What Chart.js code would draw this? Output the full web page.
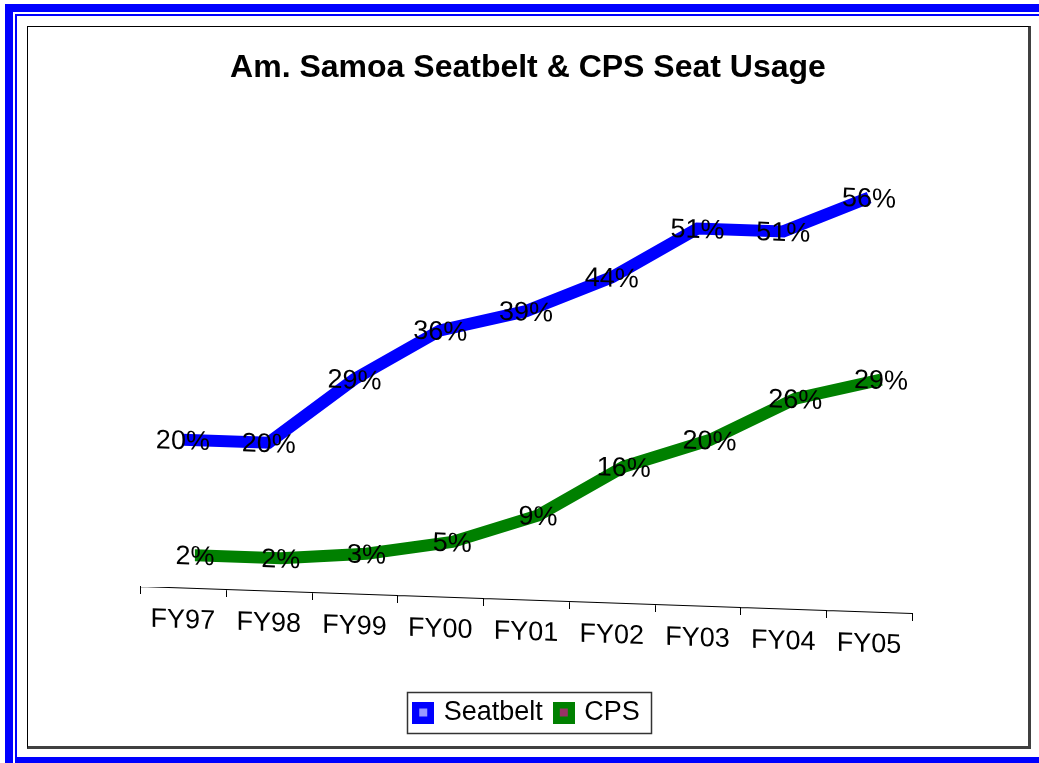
<!DOCTYPE html>
<html>
<head>
<meta charset="utf-8">
<title>Am. Samoa Seatbelt &amp; CPS Seat Usage</title>
<script src="https://cdn.jsdelivr.net/npm/chart.js@4.4.0/dist/chart.umd.min.js"></script>
<style>
  html, body { margin: 0; padding: 0; background: #fff; overflow: hidden; }
  .page { position: relative; width: 1039px; height: 763px; overflow: hidden; }
  /* double blue page border, cut off on the right */
  .outerBlue { position: absolute; left: 5px; top: 4px; width: 1100px; height: 800px;
    border-left: 8px solid #0000ff; border-top: 8px solid #0000ff; }
  .innerBlue { position: absolute; left: 15px; top: 14px; width: 1100px; height: 741px;
    border-left: 2px solid #0000ff; border-top: 2px solid #0000ff; border-bottom: 8px solid #0000ff; }
  .frame { position: absolute; left: 27px; top: 26px; width: 1000px; height: 719px;
    border-left: 1px solid #000; border-top: 1px solid #000;
    border-right: 3px solid #404040; border-bottom: 3px solid #404040; background: #fff; }
  canvas { display: block; }
</style>
</head>
<body>
<div class="page">
  <div class="outerBlue"></div>
  <div class="innerBlue"></div>
  <div class="frame"><canvas id="usageChart" width="1000" height="719"></canvas></div>
</div>
<script>
// data
const categories = ['FY97', 'FY98', 'FY99', 'FY00', 'FY01', 'FY02', 'FY03', 'FY04', 'FY05'];
const seatbelt = [20, 20, 29, 36, 39, 44, 51, 51, 56];
const cps = [2, 2, 3, 5, 9, 16, 20, 26, 29];
const seriesNames = ['Seatbelt', 'CPS'];

const FONT = "'Liberation Sans', Arial, Helvetica, sans-serif";
const SLANT = 0.035;            // floor of the old 3D chart leans down to the right
const DEPTH = { x: 12, y: -18 }; // each series further back sits up and right

// legend swatch like the Excel one: coloured square with a small inner square
function swatch(outer, inner) {
    const c = document.createElement('canvas');
    c.width = 22;
    c.height = 22;
    const g = c.getContext('2d');
    g.fillStyle = outer;
    g.fillRect(0, 0, 22, 22);
    g.fillStyle = inner;
    g.fillRect(7, 7, 8, 8);
    return c;
}
const swatches = [swatch('#0000ff', '#9999ff'), swatch('#008000', '#993366')];

const slantPlugin = {
    id: 'slant',
    beforeDatasetsDraw(chart) {
        const ctx = chart.ctx;
        const left = chart.chartArea.left;
        ctx.save();
        ctx.transform(1, SLANT, 0, 1, 0, -SLANT * left);
    },
    beforeDatasetDraw(chart, args) {
        const ctx = chart.ctx;
        ctx.save();
        ctx.translate(DEPTH.x * args.index, DEPTH.y * args.index);
    },
    afterDatasetDraw(chart, args) {
        // percentage labels centred on each point
        const ctx = chart.ctx;
        const values = chart.data.datasets[args.index].data;
        ctx.font = '27px ' + FONT;
        ctx.fillStyle = '#000';
        ctx.textAlign = 'center';
        ctx.textBaseline = 'middle';
        args.meta.data.forEach((pt, i) => {
            ctx.fillText(values[i] + '%', pt.x, pt.y + 2);
        });
        ctx.restore();
    },
    afterDatasetsDraw(chart) {
        const ctx = chart.ctx;
        const area = chart.chartArea;
        const xs = chart.scales.x;
        const step = xs.getPixelForValue(1) - xs.getPixelForValue(0);

        ctx.strokeStyle = '#000';
        ctx.lineWidth = 1;
        ctx.beginPath();
        ctx.moveTo(area.left, area.bottom + 0.5);
        ctx.lineTo(area.right, area.bottom + 0.5);
        for (let i = 0; i <= categories.length; i++) {
            const x = Math.round(xs.getPixelForValue(i) - step / 2) + 0.5;
            ctx.moveTo(x, area.bottom);
            ctx.lineTo(x, area.bottom + 8);
        }
        ctx.stroke();

        ctx.font = '27px ' + FONT;
        ctx.fillStyle = '#000';
        ctx.textAlign = 'center';
        ctx.textBaseline = 'middle';
        categories.forEach((c, i) => {
            ctx.fillText(c, xs.getPixelForValue(i), area.bottom + 33);
        });
        ctx.restore();
    }
};

const legendFrame = {
    id: 'legendFrame',
    afterDraw(chart) {
        const boxes = chart.legend.legendHitBoxes;
        if (!boxes || !boxes.length) return;
        const left = Math.min(...boxes.map(b => b.left)) - 9;
        const right = Math.max(...boxes.map(b => b.left + b.width)) + 11;
        const top = boxes[0].top - 7;
        const bottom = boxes[0].top + boxes[0].height + 7;
        const ctx = chart.ctx;
        ctx.save();
        ctx.strokeStyle = '#333';
        ctx.lineWidth = 1.5;
        ctx.strokeRect(Math.round(left) + 0.5, Math.round(top) + 0.5, Math.round(right - left), Math.round(bottom - top));
        ctx.restore();
    }
};

const hiddenAxis = {
    grid: { display: false },
    border: { display: false },
    ticks: { display: false }
};

new Chart(document.getElementById('usageChart'), {
    type: 'line',
    data: {
        labels: categories,
        datasets: [
            {
                label: seriesNames[0],
                data: seatbelt,
                borderColor: '#0000ff',
                backgroundColor: '#0000ff',
                borderWidth: 12,
                borderJoinStyle: 'miter',
                borderCapStyle: 'butt',
                pointRadius: 0,
                tension: 0,
                clip: false
            },
            {
                label: seriesNames[1],
                data: cps,
                borderColor: '#008000',
                backgroundColor: '#008000',
                borderWidth: 12,
                borderJoinStyle: 'miter',
                borderCapStyle: 'butt',
                pointRadius: 0,
                tension: 0,
                clip: false
            }
        ]
    },
    options: {
        responsive: false,
        animation: false,
        devicePixelRatio: 1,
        layout: { padding: { left: 0, right: 0, top: 0, bottom: 10 } },
        scales: {
            x: { ...hiddenAxis, offset: true, afterFit: s => { s.height = 99; } },
            y: { ...hiddenAxis, min: 0, max: 60, position: 'left', afterFit: s => { s.width = 112; } },
            yRight: { ...hiddenAxis, type: 'linear', position: 'right', afterFit: s => { s.width = 116; } }
        },
        plugins: {
            title: {
                display: true,
                text: 'Am. Samoa Seatbelt & CPS Seat Usage',
                color: '#000',
                font: { family: FONT, size: 32, weight: 'bold' },
                padding: { top: 22, bottom: 55 }
            },
            legend: {
                position: 'bottom',
                labels: {
                    color: '#000',
                    font: { family: FONT, size: 27 },
                    usePointStyle: true,
                    pointStyleWidth: 14,
                    boxWidth: 14,
                    boxHeight: 22,
                    padding: 14,
                    generateLabels: chart => Chart.defaults.plugins.legend.labels.generateLabels(chart)
                        .map((item, i) => Object.assign(item, { pointStyle: swatches[i] }))
                }
            },
            tooltip: { enabled: false }
        }
    },
    plugins: [slantPlugin, legendFrame]
});
</script>
</body>
</html>
